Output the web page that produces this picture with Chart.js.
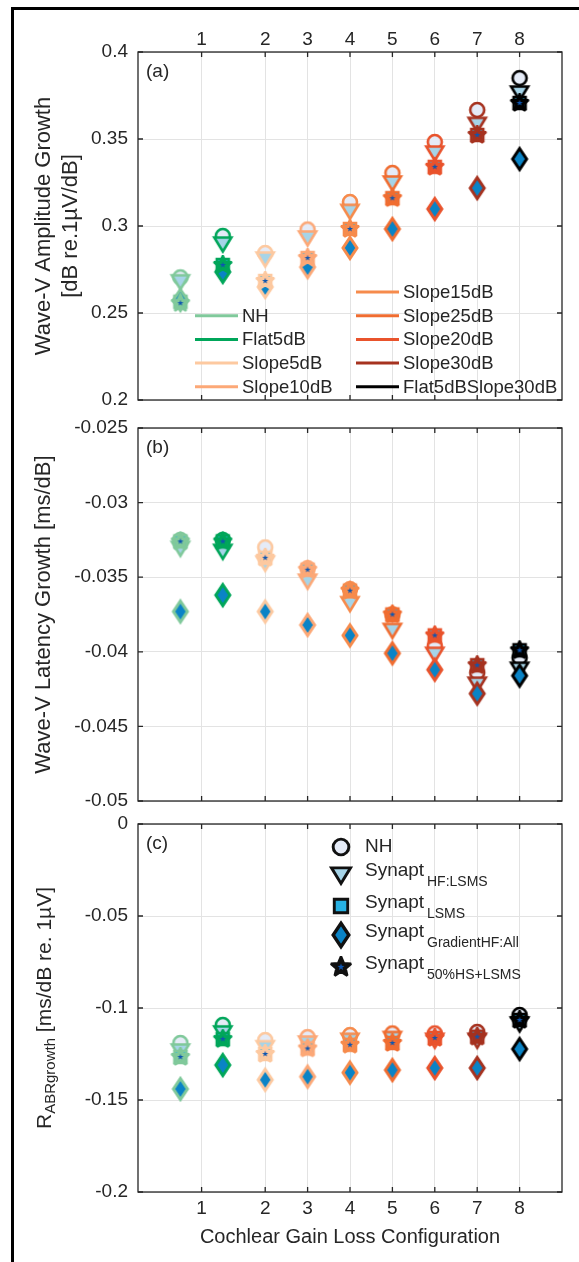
<!DOCTYPE html>
<html>
<head>
<meta charset="utf-8">
<script src="https://cdn.jsdelivr.net/npm/chart.js@4.4.1/dist/chart.umd.min.js"></script>
<style>
  body { margin: 0; background: #ffffff; }
  #page { position: relative; width: 579px; height: 1262px; overflow: hidden; background: #ffffff; }
  #frame { position: absolute; left: 11px; top: 7px; width: 700px; height: 1400px; border: 3px solid #000; box-sizing: border-box; }
  canvas { position: absolute; left: 0; top: 0; }
</style>
</head>
<body>
<div id="page">
  <div id="frame"></div>
  <canvas id="chartA" width="579" height="1262"></canvas>
  <canvas id="chartB" width="579" height="1262"></canvas>
  <canvas id="chartC" width="579" height="1262"></canvas>
</div>
<script>
var configs = ['NH', 'Flat5dB', 'Slope5dB', 'Slope10dB', 'Slope15dB', 'Slope25dB', 'Slope20dB', 'Slope30dB', 'Flat5dBSlope30dB'];
var configPos = [1, 2, 3, 4, 5, 6, 7, 8, 9];
var xTickPos = [1.5, 3, 4, 5, 6, 7, 8, 9];
var xTickLabels = ['1', '2', '3', '4', '5', '6', '7', '8'];

// (a) Wave-V amplitude growth
var ampNH = [0.2705, 0.2943, 0.2845, 0.2980, 0.3138, 0.3305, 0.3483, 0.3667, 0.3850];
var ampHF = [0.2685, 0.2902, 0.2816, 0.2937, 0.3090, 0.3253, 0.3425, 0.3590, 0.3770];
var ampLSMS = [0.2565, 0.2776, 0.2684, 0.2816, 0.2983, 0.3160, 0.3340, 0.3523, 0.3707];
var ampGrad = [0.2575, 0.2736, 0.2650, 0.2764, 0.2874, 0.2983, 0.3098, 0.3218, 0.3385];
var ampHS = [0.2557, 0.2776, 0.2684, 0.2816, 0.2983, 0.3160, 0.3340, 0.3523, 0.3707];

// (b) Wave-V latency growth
var latNH = [-0.0325, -0.0325, -0.0330, -0.0344, -0.0358, -0.0375, -0.0396, -0.0414, -0.0404];
var latHF = [-0.0330, -0.0332, -0.0340, -0.0352, -0.0367, -0.0385, -0.0401, -0.0421, -0.0411];
var latLSMS = [-0.0326, -0.0326, -0.0337, -0.0345, -0.0359, -0.0375, -0.0389, -0.0409, -0.0399];
var latGrad = [-0.0373, -0.0362, -0.0373, -0.0382, -0.0389, -0.0401, -0.0412, -0.0428, -0.0416];
var latHS = [-0.0326, -0.0326, -0.0337, -0.0345, -0.0359, -0.0375, -0.0389, -0.0409, -0.0399];

// (c) R ABR growth
var abrNH = [-0.1190, -0.1092, -0.1174, -0.1158, -0.1147, -0.1138, -0.1138, -0.1130, -0.1038];
var abrHF = [-0.1228, -0.1130, -0.1210, -0.1185, -0.1170, -0.1160, -0.1170, -0.1170, -0.1081];
var abrLSMS = [-0.1266, -0.1169, -0.1250, -0.1220, -0.1200, -0.1190, -0.1163, -0.1156, -0.1065];
var abrGrad = [-0.1440, -0.1310, -0.1390, -0.1373, -0.1351, -0.1337, -0.1326, -0.1326, -0.1223];
var abrHS = [-0.1266, -0.1169, -0.1250, -0.1220, -0.1200, -0.1190, -0.1163, -0.1156, -0.1065];

var yTicksA = [0.2, 0.25, 0.3, 0.35, 0.4];
var yLabelsA = ['0.2', '0.25', '0.3', '0.35', '0.4'];
var yTicksB = [-0.05, -0.045, -0.04, -0.035, -0.03, -0.025];
var yLabelsB = ['-0.05', '-0.045', '-0.04', '-0.035', '-0.03', '-0.025'];
var yTicksC = [-0.2, -0.15, -0.1, -0.05, 0];
var yLabelsC = ['-0.2', '-0.15', '-0.1', '-0.05', '0'];

var modelNames = ['NH', 'Synapt', 'Synapt', 'Synapt', 'Synapt'];
var modelSubs = ['', 'HF:LSMS', 'LSMS', 'GradientHF:All', '50%HS+LSMS'];

var configColors = ['#80c99b', '#00a65a', '#fdc9a0', '#fca877', '#f68b4c', '#f06d31', '#e9532c', '#a6321f', '#000000'];
var shapes = ['circle', 'tri', 'square', 'diamond', 'star'];
var FONT = '"Liberation Sans", Arial, Helvetica, sans-serif';
var TXT = '#262626';

Chart.defaults.font.family = FONT;
Chart.defaults.color = TXT;

function starPath(g, R, r) {
    for (var k = 0; k < 10; k++) {
        var a = -Math.PI / 2 + k * Math.PI / 5;
        var rr = k % 2 === 0 ? R : r;
        if (k === 0) g.moveTo(rr * Math.cos(a), rr * Math.sin(a));
        else g.lineTo(rr * Math.cos(a), rr * Math.sin(a));
    }
    g.closePath();
}

var markerCache = {};
function marker(shape, edge, f) {
    f = f || 1;
    var key = shape + edge + f;
    if (markerCache[key]) return markerCache[key];
    var c = document.createElement('canvas');
    c.width = 34;
    c.height = 34;
    var g = c.getContext('2d');
    g.translate(17, 17);
    g.scale(f, f);
    g.strokeStyle = edge;
    g.lineWidth = 2.6;
    g.lineJoin = 'miter';
    g.beginPath();
    if (shape === 'circle') {
        g.fillStyle = '#e5ebf7';
        g.arc(0, 0, 7, 0, Math.PI * 2);
    } else if (shape === 'tri') {
        g.fillStyle = '#a6d4e8';
        g.moveTo(-8.5, -5.5); g.lineTo(8.5, -5.5); g.lineTo(0, 8.5); g.closePath();
    } else if (shape === 'square') {
        g.fillStyle = '#27b1e3';
        g.rect(-6, -6, 12, 12);
    } else if (shape === 'diamond') {
        g.fillStyle = '#0a83c6';
        g.lineWidth = 3;
        g.moveTo(0, -10.5); g.lineTo(7, 0); g.lineTo(0, 10.5); g.lineTo(-7, 0); g.closePath();
    } else {
        g.fillStyle = edge;
        g.lineWidth = 2.2;
        g.miterLimit = 2.5;
        starPath(g, 9.5, 4.3);
    }
    g.fill();
    g.stroke();
    if (shape === 'star') {
        g.fillStyle = '#0d55b0';
        g.beginPath();
        starPath(g, 3.2, 1.3);
        g.fill();
    }
    markerCache[key] = c;
    return c;
}

function buildDatasets(series) {
    return shapes.map(function (shape, k) {
        return {
            label: shape,
            data: configPos.map(function (x, i) { return {x: x, y: series[k][i]}; }),
            pointStyle: configColors.map(function (c) { return marker(shape, c); }),
            pointRadius: 8,
            showLine: false,
            order: shapes.length - 1 - k,
            clip: false
        };
    });
}

var boxPlugin = {
    id: 'box',
    afterDatasetsDraw: function (chart) {
        var a = chart.chartArea, g = chart.ctx;
        var xs = chart.scales.x, ys = chart.scales.y;
        g.save();
        g.strokeStyle = TXT;
        g.lineWidth = 1.3;
        g.strokeRect(a.left, a.top, a.right - a.left, a.bottom - a.top);
        g.beginPath();
        xs.ticks.forEach(function (t) {
            var px = xs.getPixelForValue(t.value);
            g.moveTo(px, a.top); g.lineTo(px, a.top + 5);
            g.moveTo(px, a.bottom); g.lineTo(px, a.bottom - 5);
        });
        ys.ticks.forEach(function (t) {
            var py = ys.getPixelForValue(t.value);
            g.moveTo(a.left, py); g.lineTo(a.left + 5, py);
            g.moveTo(a.right, py); g.lineTo(a.right - 5, py);
        });
        g.stroke();
        g.font = '19px ' + FONT;
        g.fillStyle = TXT;
        g.textBaseline = 'middle';
        g.fillText(chart.options.plugins.box.tag, a.left + 8, a.top + 20);
        g.restore();
    }
};

var legendA = {
    id: 'legendA',
    afterDraw: function (chart) {
        var g = chart.ctx;
        g.save();
        g.font = '18.5px ' + FONT;
        g.textBaseline = 'middle';
        g.fillStyle = TXT;
        for (var i = 0; i < configs.length; i++) {
            var left = i < 4;
            var row = left ? i + 1 : i - 4;
            var x0 = left ? 195 : 356;
            var y0 = 292 + row * 23.7;
            g.strokeStyle = configColors[i];
            g.lineWidth = 3;
            g.beginPath();
            g.moveTo(x0, y0);
            g.lineTo(x0 + 43, y0);
            g.stroke();
            g.fillText(configs[i], x0 + 47, y0 + 1);
        }
        g.restore();
    }
};

var legendC = {
    id: 'legendC',
    afterDraw: function (chart) {
        var g = chart.ctx;
        var rows = [847, 874, 906, 935, 967];
        g.save();
        g.textBaseline = 'middle';
        g.fillStyle = TXT;
        for (var i = 0; i < shapes.length; i++) {
            var m = marker(shapes[i], '#111111', 1.12);
            g.drawImage(m, 341 - m.width / 2, rows[i] - m.height / 2);
            g.font = '19px ' + FONT;
            var ty = i === 0 ? rows[i] : rows[i] - 3;
            g.fillText(modelNames[i], 365, ty);
            if (modelSubs[i]) {
                g.font = '14px ' + FONT;
                g.fillText(modelSubs[i], 427, ty + 11);
            }
        }
        // y-axis title with subscript
        g.translate(45, 1008);
        g.rotate(-Math.PI / 2);
        var big = '21px ' + FONT, small = '15px ' + FONT;
        var t1 = 'R', t2 = 'ABRgrowth', t3 = ' [ms/dB re. 1\u00b5V]';
        g.font = big;
        var w1 = g.measureText(t1).width, w3 = g.measureText(t3).width;
        g.font = small;
        var w2 = g.measureText(t2).width;
        var x = -(w1 + w2 + w3) / 2;
        g.font = big;
        g.fillText(t1, x, 0);
        g.font = small;
        g.fillText(t2, x + w1, 6);
        g.font = big;
        g.fillText(t3, x + w1 + w2, 0);
        g.restore();
    }
};

function makeChart(id, series, opt) {
    return new Chart(document.getElementById(id), {
        type: 'scatter',
        data: {datasets: buildDatasets(series)},
        options: {
            responsive: false,
            animation: false,
            events: [],
            layout: {padding: opt.padding},
            plugins: {
                legend: {display: false},
                tooltip: {enabled: false},
                box: {tag: opt.tag}
            },
            scales: {
                x: {
                    type: 'linear',
                    position: opt.xSide,
                    min: 0,
                    max: 10,
                    afterBuildTicks: function (s) {
                        s.ticks = xTickPos.map(function (v) { return {value: v}; });
                    },
                    afterFit: function (s) { s.height = opt.xHeight; },
                    grid: {color: '#e3e3e3', drawTicks: false},
                    border: {display: false},
                    ticks: {
                        display: opt.xLabels,
                        autoSkip: false,
                        maxRotation: 0,
                        padding: opt.xPad,
                        font: {size: 19},
                        callback: function (v) { return xTickLabels[xTickPos.indexOf(v)]; }
                    },
                    title: {
                        display: !!opt.xTitle,
                        text: opt.xTitle || '',
                        font: {size: 20},
                        padding: {top: 0, bottom: 3}
                    }
                },
                y: {
                    type: 'linear',
                    min: opt.yTicks[0],
                    max: opt.yTicks[opt.yTicks.length - 1],
                    afterBuildTicks: function (s) {
                        s.ticks = opt.yTicks.map(function (v) { return {value: v}; });
                    },
                    afterFit: function (s) { s.width = 138; },
                    grid: {color: '#e3e3e3', drawTicks: false},
                    border: {display: false},
                    ticks: {
                        padding: 10,
                        font: {size: 19},
                        callback: function (v, i) { return opt.yLabels[i]; }
                    },
                    title: {
                        display: !!opt.yTitle,
                        text: opt.yTitle || '',
                        font: {size: 22},
                        padding: {top: 31, bottom: 0}
                    }
                }
            }
        },
        plugins: [boxPlugin].concat(opt.extra)
    });
}

var chartA = makeChart('chartA', [ampNH, ampHF, ampLSMS, ampGrad, ampHS], {
    padding: {left: 0, right: 17, top: 0, bottom: 862},
    xSide: 'top', xHeight: 52, xLabels: true, xPad: 1,
    yTicks: yTicksA, yLabels: yLabelsA,
    yTitle: ['Wave-V Amplitude Growth', '[dB re.1\u00b5V/dB]'],
    tag: '(a)', extra: [legendA]
});

var chartB = makeChart('chartB', [latNH, latHF, latLSMS, latGrad, latHS], {
    padding: {left: 0, right: 17, top: 428, bottom: 461},
    xSide: 'bottom', xHeight: 0, xLabels: false, xPad: 0,
    yTicks: yTicksB, yLabels: yLabelsB,
    yTitle: 'Wave-V Latency Growth [ms/dB]',
    tag: '(b)', extra: []
});

var chartC = makeChart('chartC', [abrNH, abrHF, abrLSMS, abrGrad, abrHS], {
    padding: {left: 0, right: 17, top: 824, bottom: 10},
    xSide: 'bottom', xHeight: 60, xLabels: true, xPad: 5,
    xTitle: 'Cochlear Gain Loss Configuration',
    yTicks: yTicksC, yLabels: yLabelsC,
    tag: '(c)', extra: [legendC]
});
</script>
</body>
</html>
